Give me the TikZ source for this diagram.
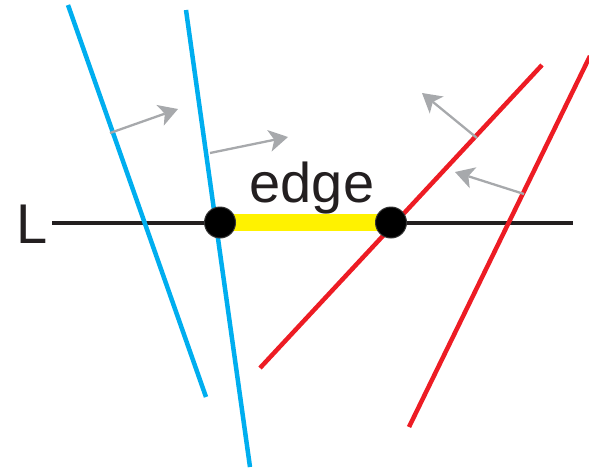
\documentclass[tikz,border=0pt]{standalone}
\usepackage{fontspec}
\setmainfont{Liberation Sans}
\usetikzlibrary{calc}
\definecolor{halfblue}{RGB}{0,174,239}
\definecolor{halfred}{RGB}{237,28,36}
\definecolor{edgeyellow}{RGB}{255,242,0}
\definecolor{normalgray}{RGB}{167,169,172}
\definecolor{textblack}{RGB}{35,31,32}
\tikzset{
  bluehalf/.style={halfblue, line width=4.5pt},
  redhalf/.style={halfred, line width=4.5pt},
  normalarrow/.style={normalgray, line width=2.3pt},
  vertex/.style={circle, fill=black, draw=black!80, line width=1pt, minimum size=31pt, inner sep=0pt},
}
\begin{document}
\begin{tikzpicture}[x=1pt,y=-1pt]
\useasboundingbox (0,0) rectangle (589,469);
% The line L
\coordinate (Lw) at (52,223);
\coordinate (Le) at (573,223);
\draw[textblack, line width=4pt] (Lw) -- (Le);
\node[textblack, font=\fontsize{56}{60}\selectfont, inner sep=0pt] (lab) at (32,224) {L};
% Blue half-planes
\coordinate (b1t) at (68,5);   \coordinate (b1b) at (206,397);
\coordinate (b2t) at (186,10); \coordinate (b2b) at (250,467);
\draw[bluehalf] (b1t) -- (b1b);
\draw[bluehalf] (b2t) -- (b2b);
% Red half-planes
\coordinate (r1t) at (542,65);  \coordinate (r1b) at (260,368);
\coordinate (r2t) at (590,56);  \coordinate (r2b) at (409,427);
\draw[redhalf] (r1t) -- (r1b);
\draw[redhalf] (r2t) -- (r2b);
% Normals, with hand-made heads
\coordinate (n1s) at (110,133); \coordinate (n1e) at (178,109);
\coordinate (n2s) at (210,153); \coordinate (n2e) at (288,137);
\coordinate (n3s) at (477,138); \coordinate (n3e) at (422,93);
\coordinate (n4s) at (524,194); \coordinate (n4e) at (455,172);
\foreach \k in {1,2,3,4} {
  \coordinate (h\k) at ($(n\k e)!19pt!(n\k s)$);
  \coordinate (m\k) at ($(n\k e)!14pt!(n\k s)$);
  \draw[normalarrow] (n\k s) -- (m\k);
  \fill[normalgray] (n\k e) -- ($(h\k)!11pt!90:(n\k e)$) -- (m\k)
    -- ($(h\k)!11pt!-90:(n\k e)$) -- cycle;
}
% The edge between the two intersections
\coordinate (pa) at (220,222.5);
\coordinate (pb) at (391,222.5);
\draw[edgeyellow, line width=17pt] (pa) -- (pb);
\node[vertex] (va) at (pa) {};
\node[vertex] (vb) at (pb) {};
\node[textblack, font=\fontsize{56}{60}\selectfont, anchor=base, inner sep=0pt] (edgelab) at (312,202) {edge};
\end{tikzpicture}
\end{document}
